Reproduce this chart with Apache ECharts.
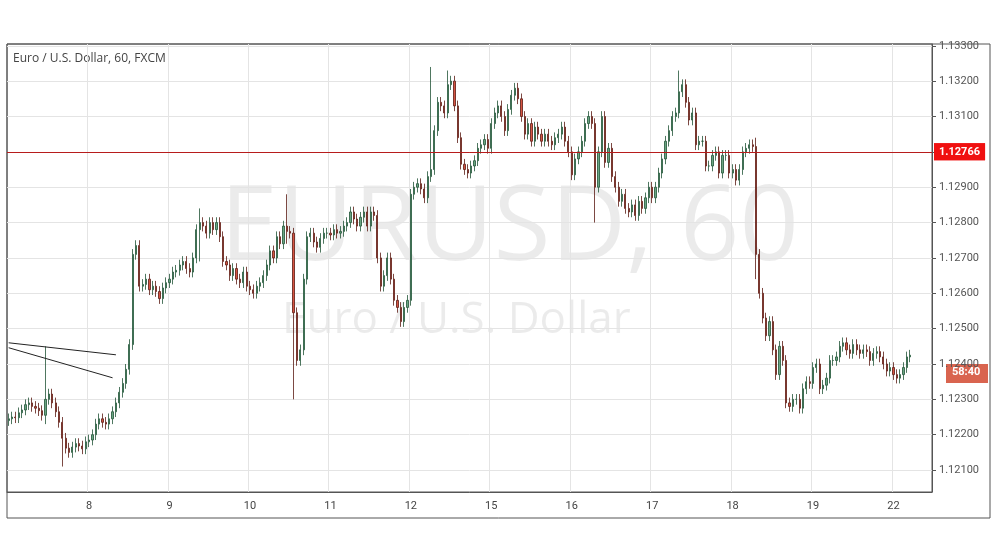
<!DOCTYPE html>
<html>
<head>
<meta charset="utf-8">
<script src="https://cdn.jsdelivr.net/npm/echarts@6/dist/echarts.min.js"></script>
<style>html,body{margin:0;padding:0;background:#fff}#chart{width:995px;height:556px}</style>
</head>
<body>
<div id="chart"></div>
<script>
// 日标签（每天24根小时K线）
var days = ['5', '8', '9', '10', '11', '12', '15', '16', '17', '18', '19', '22'];
// 收盘价，单位 0.00001，1.12250 写成 12250
var closes = [
  12245,12250,12248,12262,12270,12285,12290,12280,12275,12268,12255,12300,12315,12290,12265,12235,12190,12162,12150,12165,12175,12168,12160,12180,
  12185,12200,12230,12245,12235,12230,12245,12265,12290,12320,12345,12385,12455,12710,12735,12620,12625,12640,12610,12620,12605,12585,12615,12630,
  12640,12660,12665,12680,12690,12670,12660,12700,12780,12800,12790,12770,12800,12780,12800,12760,12690,12680,12650,12670,12640,12630,12660,12620,
  12610,12600,12620,12630,12650,12680,12720,12700,12760,12740,12790,12775,12770,12545,12410,12440,12640,12760,12770,12745,12730,12755,12770,12770,
  12765,12780,12770,12775,12790,12800,12830,12810,12790,12815,12830,12790,12830,12820,12700,12620,12650,12700,12640,12580,12560,12520,12560,12580,
  12880,12900,12910,12895,12870,12930,12950,13060,13140,13130,13110,13190,13200,13130,13040,12965,12950,12940,12960,12975,13010,13020,13035,13010,
  13080,13110,13130,13100,13060,13120,13160,13180,13150,13100,13050,13080,13030,13070,13050,13030,13050,13030,13020,13040,13050,13070,13030,13000,
  12935,12980,13000,13030,13080,13100,13080,12900,13000,13100,12970,13010,12930,12900,12860,12880,12840,12830,12850,12820,12860,12840,12870,12900,
  12870,12900,12940,12980,13030,13060,13100,13110,13170,13190,13140,13090,13110,13020,13030,13030,12960,12960,12990,13000,12940,12990,12990,12940,
  12950,12920,12950,13000,13010,13020,13015,12710,12600,12530,12480,12520,12440,12370,12450,12410,12290,12280,12300,12300,12275,12330,12350,12345,
  12390,12400,12330,12340,12360,12410,12410,12420,12450,12460,12440,12430,12455,12440,12430,12440,12435,12410,12430,12435,12420,12400,12380,12390,
  12370,12360,12370,12390,12420,12425
];
var firstOpen = 12240;
// 明显的影线 [序号, 最高, 最低]
var spikes = [[11, 12450, 12230], [16, 12240, 12110], [57, 12840, 12690], [83, 12880, 12740], [85, 12440, 12300],
  [126, 13240, 13110], [131, 13230, 13100], [175, 13090, 12800], [200, 13230, 13100], [223, 13040, 12640], [237, 12340, 12265]];
// 水平价位线
var redLevels = [1.13248, 1.12766, 1.12498];
var blueLevel = 1.12137;
var lastPrice = 1.12425;
var yTicks = [1.121, 1.122, 1.123, 1.124, 1.125, 1.126, 1.127, 1.128, 1.129, 1.130, 1.131, 1.132, 1.133];
var emptySlots = 6;

var cats = [];
days.forEach(function (d) {
  for (var h = 0; h < 24; h++) cats.push(h === 0 ? d : d + '-' + h);
});
cats = cats.slice(0, closes.length);
for (var e = 0; e < emptySlots; e++) cats.push('pad' + e);

var spikeMap = {};
spikes.forEach(function (s) { spikeMap[s[0]] = s; });
var kdata = closes.map(function (c, i) {
  var o = i === 0 ? firstOpen : closes[i - 1];
  var hi = Math.max(o, c) + 15, lo = Math.min(o, c) - 15;
  if (spikeMap[i]) { hi = Math.max(hi, spikeMap[i][1]); lo = Math.min(lo, spikeMap[i][2]); }
  return [o, c, lo, hi].map(function (v) { return 1 + v / 100000; });
});

function isDayStart(idx, val) { return String(val).indexOf('-') < 0 && String(val).indexOf('pad') < 0 && idx > 0; }

// 每条价位线单独一个系列
function levelSeries(v, color, bg, type) {
  return {
    type: 'line', data: [], silent: true, z: 3,
    markLine: {
      symbol: 'none', silent: true, animation: false,
      lineStyle: { color: color, type: type || 'solid', width: 1 },
      label: { show: true, position: 'end', formatter: v.toFixed(5), color: '#fff', backgroundColor: bg,
        padding: [3, 5], fontWeight: 'bold', fontSize: 11, fontFamily: 'Roboto', distance: 2 },
      data: [{ yAxis: v }]
    }
  };
}

var chart = echarts.init(document.getElementById('chart'));
chart.setOption({
  animation: false,
  grid: { left: 7, right: 63, top: 44, bottom: 64, show: true, borderColor: '#555', borderWidth: 1 },
  xAxis: {
    type: 'category', data: cats, boundaryGap: true,
    axisLine: { lineStyle: { color: '#555' } },
    axisTick: { show: false },
    axisLabel: { interval: isDayStart, color: '#444', fontSize: 11, fontFamily: 'Roboto', margin: 9 },
    splitLine: { show: true, interval: isDayStart, lineStyle: { color: '#e4e4e4' } }
  },
  yAxis: {
    type: 'value', position: 'right', scale: true, min: 1.12038, max: 1.13305,
    axisLine: { show: true, lineStyle: { color: '#555' } },
    axisTick: { show: true, length: 4, customValues: yTicks, lineStyle: { color: '#555' } },
    axisLabel: { customValues: yTicks, color: '#555', fontSize: 11, fontFamily: 'Roboto', margin: 7,
      formatter: function (v) { return v.toFixed(5); } },
    splitLine: { show: true, lineStyle: { color: '#e4e4e4' } }
  },
  series: [
    {
      type: 'candlestick', data: kdata, barMaxWidth: 3, z: 2,
      itemStyle: { color: '#6ba583', color0: '#d75442', borderColor: '#225437', borderColor0: '#5b1a13', borderWidth: 0.8 },
      markLine: {
        symbol: 'none', silent: true, animation: false,
        lineStyle: { color: '#222', type: 'solid', width: 1 }, label: { show: false },
        data: [
          [{ coord: [0, 1.12460] }, { coord: [32, 1.12426] }],
          [{ coord: [0, 1.12446] }, { coord: [31, 1.12361] }]
        ]
      }
    },
    levelSeries(redLevels[0], '#b71c1c', '#f01010'),
    levelSeries(redLevels[1], '#b71c1c', '#f01010'),
    levelSeries(redLevels[2], '#b71c1c', '#f01010'),
    levelSeries(blueLevel, '#0d1a8c', '#1010f0'),
    levelSeries(lastPrice, '#c0392b', '#d9644f', 'dotted')
  ],
  graphic: [
    { type: 'text', left: 220, top: 178, silent: true, z: -1,
      style: { text: 'EURUSD, 60', fontSize: 104, fontFamily: 'Open Sans', fill: 'rgba(0,0,0,0.08)' } },
    { type: 'text', left: 282, top: 298, silent: true, z: -1,
      style: { text: 'Euro / U.S. Dollar', fontSize: 44, fontFamily: 'Open Sans', fill: 'rgba(0,0,0,0.08)' } },
    { type: 'text', left: 13, top: 53, style: { text: 'Euro / U.S. Dollar, 60, FXCM', fontSize: 12, fontFamily: 'Open Sans', fill: '#444' } },
    { type: 'rect', shape: { x: 946, y: 364, width: 42, height: 19 }, style: { fill: '#d9644f' } },
    { type: 'text', left: 952, top: 367, style: { text: '58:40', fontSize: 11, fontWeight: 'bold', fontFamily: 'Roboto', fill: '#fff' } },
    { type: 'rect', shape: { x: 7, y: 44, width: 983, height: 474 }, style: { fill: 'none', stroke: '#555', lineWidth: 1 } }
  ]
});
</script>
</body>
</html>
